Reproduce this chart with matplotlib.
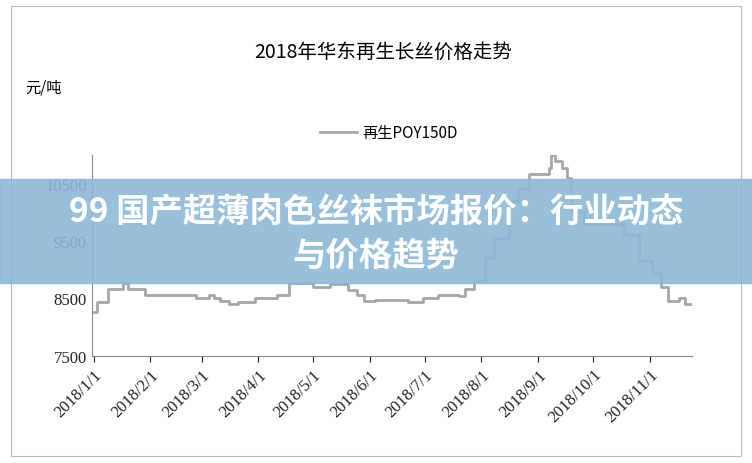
import datetime as dt

import matplotlib
matplotlib.use("Agg")
import matplotlib.pyplot as plt
import matplotlib.dates as mdates
from matplotlib.patches import Rectangle

plt.rcParams['font.family'] = ['Noto Sans CJK SC', 'DejaVu Sans']

# day offsets from 2018-01-01 and step values (元/吨)
days = [0, 2, 8, 16, 19, 28, 56, 63, 66, 69, 74, 79, 88, 100, 107, 120, 129,
        139, 144, 148, 154, 172, 180, 188, 200, 203, 208, 214, 219, 227, 232,
        238, 249, 250, 252, 256, 259, 261, 268, 279, 290, 298, 305, 310, 314,
        320, 323, 326]
prices = [8270, 8440, 8660, 8770, 8660, 8560, 8500, 8560, 8500, 8450, 8400,
          8440, 8500, 8560, 8770, 8700, 8750, 8650, 8560, 8450, 8470, 8440,
          8500, 8560, 8540, 8660, 8800, 9200, 9550, 10200, 10400, 10660,
          10770, 11000, 10900, 10770, 10600, 10000, 9800, 9800, 9600, 9150,
          8950, 8700, 8450, 8500, 8400, 8400]
month_ticks = [dt.date(2018, m, 1) for m in range(1, 12)]
y_ticks = [7500, 8500, 9500, 10500]

start = dt.date(2018, 1, 1)
dates = [start + dt.timedelta(days=d) for d in days]

fig = plt.figure(figsize=(7.52, 4.64), dpi=100)
ax = fig.add_axes([0.122, 0.231, 0.798, 0.433])
ax.plot(dates, prices, drawstyle="steps-post", color="#a6a6a6", lw=2)
ax.set_ylim(7500, 11000)
ax.set_yticks(y_ticks)
ax.set_xlim(start - dt.timedelta(days=1), dt.date(2018, 11, 24))
ax.set_xticks(month_ticks)
ax.xaxis.set_major_formatter(
    matplotlib.ticker.FuncFormatter(lambda v, p: "{d.year}/{d.month}/{d.day}".format(d=mdates.num2date(v))))
for lab in ax.get_xticklabels() + ax.get_yticklabels():
    lab.set_family("Liberation Serif")
for lab in ax.get_xticklabels():
    lab.set_rotation(45)
    lab.set_ha("right")
    lab.set_rotation_mode("anchor")
ax.tick_params(labelsize=12, colors="#222222", length=4)
ax.tick_params(axis="y", length=0)
for s in ["top", "right"]:
    ax.spines[s].set_visible(False)
for s in ["left", "bottom"]:
    ax.spines[s].set_color("#888888")

fig.text(0.51, 0.875, "2018年华东再生长丝价格走势", ha="center", fontsize=14)
fig.text(0.033, 0.80, "元/吨", fontsize=11)
fig.lines.append(plt.Line2D([0.425, 0.475], [0.713, 0.713], transform=fig.transFigure,
                            color="#a6a6a6", lw=2))
fig.text(0.482, 0.713, "再生POY150D", va="center", fontsize=11)
fig.patches.append(Rectangle((0.015, 0.015), 0.97, 0.97, transform=fig.transFigure,
                             fill=False, ec="#bbbbbb", lw=0.8))

# overlay banner
fig.patches.append(Rectangle((0, 0.388), 1, 0.224, transform=fig.transFigure,
                             color="#8db9d8", alpha=0.9, zorder=5))
fig.text(0.5, 0.541, "99 国产超薄肉色丝袜市场报价：行业动态", ha="center", va="center",
         color="white", fontsize=24, fontweight="bold", zorder=6)
fig.text(0.5, 0.448, "与价格趋势", ha="center", va="center",
         color="white", fontsize=24, fontweight="bold", zorder=6)

fig.savefig("out.png", dpi=100)
